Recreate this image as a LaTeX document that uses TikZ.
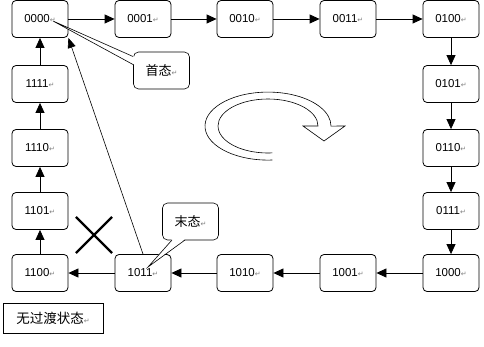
\documentclass[tikz,border=0pt]{standalone}
\usepackage{fontspec}
\setmainfont{Liberation Sans}
\newfontfamily\cjk{Noto Sans CJK SC}
\newfontfamily\retfont{DejaVu Sans}
\usetikzlibrary{positioning,arrows.meta,shapes.misc}
\newcommand{\retmark}{{\retfont\fontsize{7}{7}\selectfont\color{gray}↵}}
\tikzset{
  stt/.style={draw=black, line width=0.8pt, rounded corners=4pt, fill=white,
              minimum width=56pt, minimum height=37pt, inner sep=0pt,
              font=\fontsize{11.5}{13}\selectfont},
  tr/.style={-{Triangle[length=10pt,width=9pt]}, line width=0.8pt},
  thin tr/.style={-{Triangle[length=10pt,width=8pt]}, line width=0.6pt},
  callout/.style={draw=black, line width=0.6pt, rounded corners=5pt, fill=white,
                  minimum width=56pt, minimum height=37pt, inner sep=0pt,
                  font=\cjk\fontsize{13}{15}\selectfont},
  plainbox/.style={draw=black, line width=0.6pt, fill=white, minimum width=100pt,
                   minimum height=30pt, inner sep=0pt, font=\cjk\fontsize{13.5}{15}\selectfont},
  nogo/.style={cross out, draw=black, line width=2.2pt, minimum size=34pt, inner sep=0pt},
  turn/.style={draw=black, line width=0.6pt, fill=white},
}

\begin{document}
\begin{tikzpicture}[x=1pt, y=1pt]
\useasboundingbox (0,0) rectangle (484,346);
% top row
\node[stt] (n0000) at (40,327) {0000\retmark};
\node[stt] (n0001) at (143,327) {0001\retmark};
\node[stt] (n0010) at (245,327) {0010\retmark};
\node[stt] (n0011) at (348,327) {0011\retmark};
\node[stt] (n0100) at (451,327) {0100\retmark};
% right column
\node[stt] (n0101) at (451,262) {0101\retmark};
\node[stt] (n0110) at (451,198) {0110\retmark};
\node[stt] (n0111) at (451,135) {0111\retmark};
\node[stt] (n1000) at (451,73) {1000\retmark};
% bottom row
\node[stt] (n1001) at (348,73) {1001\retmark};
\node[stt] (n1010) at (245,73) {1010\retmark};
\node[stt] (n1011) at (143,73) {1011\retmark};
\node[stt] (n1100) at (40,73) {1100\retmark};
% left column
\node[stt] (n1101) at (40,135) {1101\retmark};
\node[stt] (n1110) at (40,198) {1110\retmark};
\node[stt] (n1111) at (40,262) {1111\retmark};
% transitions
\draw[tr] (n0000) -- (n0001); \draw[tr] (n0001) -- (n0010);
\draw[tr] (n0010) -- (n0011); \draw[tr] (n0011) -- (n0100);
\draw[tr] (n0100) -- (n0101); \draw[tr] (n0101) -- (n0110);
\draw[tr] (n0110) -- (n0111); \draw[tr] (n0111) -- (n1000);
\draw[tr] (n1000) -- (n1001); \draw[tr] (n1001) -- (n1010);
\draw[tr] (n1010) -- (n1011); \draw[tr] (n1011) -- (n1100);
\draw[tr] (n1100) -- (n1101); \draw[tr] (n1101) -- (n1110);
\draw[tr] (n1110) -- (n1111); \draw[tr] (n1111) -- (n0000);
\draw[thin tr] (n1011.north) -- (n0000.south east);
% blocked step
\node[nogo] (cut) at (94,111) {};
% turning arrow
\draw[turn] (272.4,186) arc[start angle=274, end angle=0, x radius=63, y radius=34]
  -- (345,220) -- (324,205) -- (303,220) -- (318,220)
  arc[start angle=0, end angle=275, x radius=50, y radius=27];
% callouts
\node[callout] (first) at (161.5,275.5) {首态\retmark};
\fill[white] (134,289.5) -- (53,325) -- (134,281.5) -- cycle;
\draw[line width=0.6pt] (133,289.5) -- (53,325) -- (133,281.5);
\node[callout] (last) at (190.5,124.5) {末态\retmark};
\fill[white] (172,107) -- (148,79) -- (185,107) -- cycle;
\draw[line width=0.6pt] (172,106) -- (148,79) -- (185,106);
% legend
\node[plainbox] (none) at (53,28) {无过渡状态\retmark};
\end{tikzpicture}
\end{document}
